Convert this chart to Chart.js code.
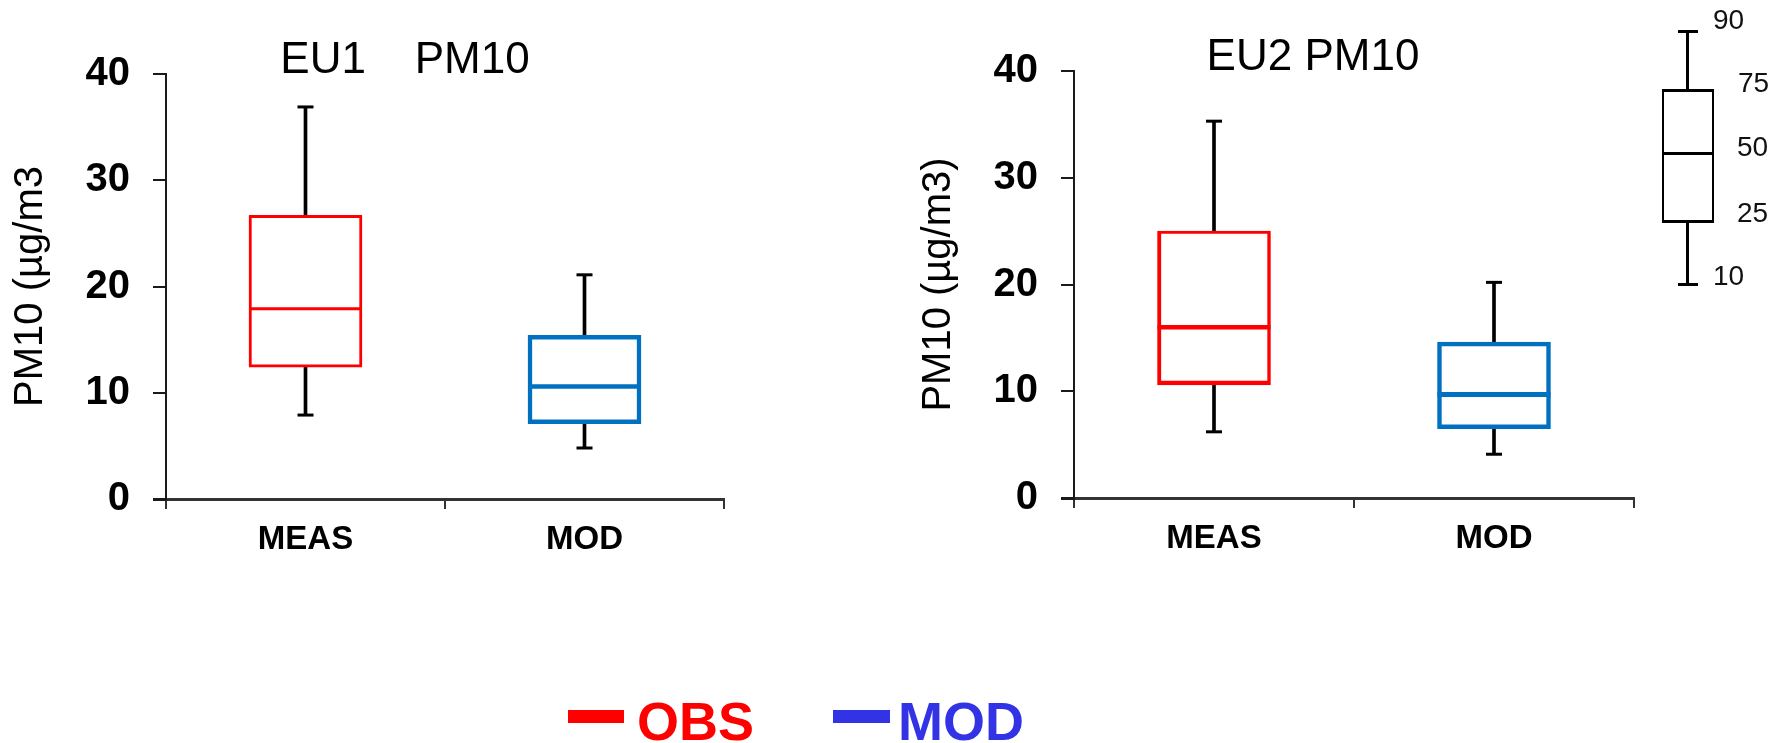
<!DOCTYPE html>
<html>
<head>
<meta charset="utf-8">
<script src="https://cdn.jsdelivr.net/npm/chart.js@4.4.1/dist/chart.umd.min.js"></script>
<style>
  html, body { margin: 0; padding: 0; background: #fff; }
  #fig { position: relative; width: 1777px; height: 743px; overflow: hidden;
         font-family: 'Liberation Sans', Arial, sans-serif; }
  #fig canvas { position: absolute; left: 0; top: 0; }
  .txt { position: absolute; line-height: 1; white-space: pre; color: #000; }
  .panel-title { font-size: 44px; transform: translateX(-50%); }
  .key-label { font-size: 28px; color: #111; }
  .legend-label { font-size: 54px; font-weight: bold; }
  .blk { position: absolute; background: #000; }
  .key-box { position: absolute; box-sizing: border-box; background: #fff;
             border-style: solid; border-color: #000;
             border-width: 3.5px 2.5px 3.5px 2.5px; }
</style>
</head>
<body>
<div id="fig">
  <canvas id="eu1" width="1777" height="743"></canvas>
  <canvas id="eu2" width="1777" height="743"></canvas>

  <div class="txt panel-title" style="left:405px; top:36px;">EU1    PM10</div>
  <div class="txt panel-title" style="left:1313px; top:33px;">EU2 PM10</div>

  <!-- percentile key -->
  <div class="blk" style="left:1686px; top:31px; width:3px; height:58px;"></div>
  <div class="blk" style="left:1686px; top:221px; width:3px; height:62px;"></div>
  <div class="blk" style="left:1678px; top:29.5px; width:19.5px; height:3px;"></div>
  <div class="blk" style="left:1678px; top:282.5px; width:19.5px; height:3px;"></div>
  <div class="key-box" style="left:1662px; top:88.5px; width:51.5px; height:134px;"></div>
  <div class="blk" style="left:1662px; top:151.8px; width:51.5px; height:3.5px;"></div>
  <div class="txt key-label" style="left:1713px; top:6px;">90</div>
  <div class="txt key-label" style="left:1738px; top:69px;">75</div>
  <div class="txt key-label" style="left:1737px; top:132.5px;">50</div>
  <div class="txt key-label" style="left:1737px; top:198.5px;">25</div>
  <div class="txt key-label" style="left:1713px; top:262px;">10</div>

  <!-- series legend -->
  <div class="blk" style="left:568px; top:710px; width:56px; height:13px; background:#ff0000;"></div>
  <div class="txt legend-label" style="left:637px; top:694px; color:#ff0000;">OBS</div>
  <div class="blk" style="left:833px; top:710px; width:57px; height:13px; background:#3333e6;"></div>
  <div class="txt legend-label" style="left:898px; top:694px; color:#3333e6;">MOD</div>
</div>

<script>
// Categories and axis ticks
const categories = ['MEAS', 'MOD'];
const yMin = 0;
const yMax = 40;
const yStep = 10;

// EU1 PM10 percentiles (10th, 25th, 50th, 75th, 90th)
const eu1P10 = [7.9, 4.8];
const eu1P25 = [12.4, 7.1];
const eu1P50 = [17.9, 10.6];
const eu1P75 = [26.7, 15.4];
const eu1P90 = [36.9, 21.1];

// EU2 PM10 percentiles (10th, 25th, 50th, 75th, 90th)
const eu2P10 = [6.2, 4.1];
const eu2P25 = [10.6, 6.5];
const eu2P50 = [16.0, 9.7];
const eu2P75 = [25.0, 14.6];
const eu2P90 = [35.3, 20.2];

const FONT = "'Liberation Sans', Arial, sans-serif";
const boxColors = ['#ff0000', '#0070c0'];
const axisColor = '#333333';

// One box plot per category, assembled from floating bars and line-style points
function boxDatasets(p10, p25, p50, p75, p90, boxWidths, medianWidths) {
  const capStyle = {
    type: 'line', showLine: false, pointStyle: 'line', pointRadius: 8,
    pointBorderColor: '#000', pointBorderWidth: 3, order: 3
  };
  return [
    { type: 'bar', label: 'whisker', data: p10.map((v, i) => [v, p90[i]]),
      backgroundColor: '#000', borderWidth: 0, barThickness: 3, grouped: false, order: 4 },
    { type: 'bar', label: 'box', data: p25.map((v, i) => [v, p75[i]]),
      backgroundColor: '#fff', borderColor: boxColors,
      borderWidth: ctx => boxWidths[ctx.dataIndex], borderSkipped: false,
      barThickness: 113, grouped: false, order: 2 },
    { type: 'line', label: 'median', data: p50, showLine: false, pointStyle: 'line',
      pointRadius: 56.5, pointBorderColor: boxColors, pointBorderWidth: medianWidths, order: 1 },
    Object.assign({ label: 'p10 cap', data: p10 }, capStyle),
    Object.assign({ label: 'p90 cap', data: p90 }, capStyle)
  ];
}

function panel(canvasId, datasets, yTitle, padding) {
  return new Chart(document.getElementById(canvasId), {
    type: 'bar',
    data: { labels: categories, datasets: datasets },
    options: {
      responsive: false,
      animation: false,
      events: [],
      layout: { padding: padding },
      plugins: { legend: { display: false }, tooltip: { enabled: false } },
      scales: {
        x: {
          type: 'category', offset: true,
          grid: { offset: true, drawOnChartArea: false, tickLength: 10, color: axisColor, lineWidth: 2 },
          border: { display: true, color: axisColor, width: 3 },
          ticks: { font: { family: FONT, size: 33, weight: 'bold' }, color: '#000', padding: 11, maxRotation: 0 },
          afterFit(scale) { scale.height = 60; }
        },
        y: {
          min: yMin, max: yMax,
          ticks: { stepSize: yStep, font: { family: FONT, size: 40, weight: 'bold' }, color: '#000', padding: 23 },
          grid: { drawOnChartArea: false, tickLength: 13, color: '#1a1a1a',
                  lineWidth: ctx => (ctx.tick && ctx.tick.value === 0 ? 3 : 2) },
          border: { display: true, color: '#1a1a1a', width: 2 },
          title: { display: true, text: yTitle, color: '#000',
                   font: { family: FONT, size: 40, weight: 'normal' }, padding: { top: 7, bottom: 0 } },
          afterFit(scale) { scale.width = 166; }
        }
      }
    }
  });
}

panel('eu1',
  boxDatasets(eu1P10, eu1P25, eu1P50, eu1P75, eu1P90, [3, 4.5], [3, 4.5]),
  'PM10 (µg/m3',
  { left: 0, right: 1053, top: 74, bottom: 184 });

panel('eu2',
  boxDatasets(eu2P10, eu2P25, eu2P50, eu2P75, eu2P90,
              [{ top: 3, bottom: 4.5, left: 4, right: 3.5 }, 4.5], [4.5, 5]),
  'PM10 (µg/m3)',
  { left: 908, right: 143, top: 71, bottom: 185 });
</script>
</body>
</html>
